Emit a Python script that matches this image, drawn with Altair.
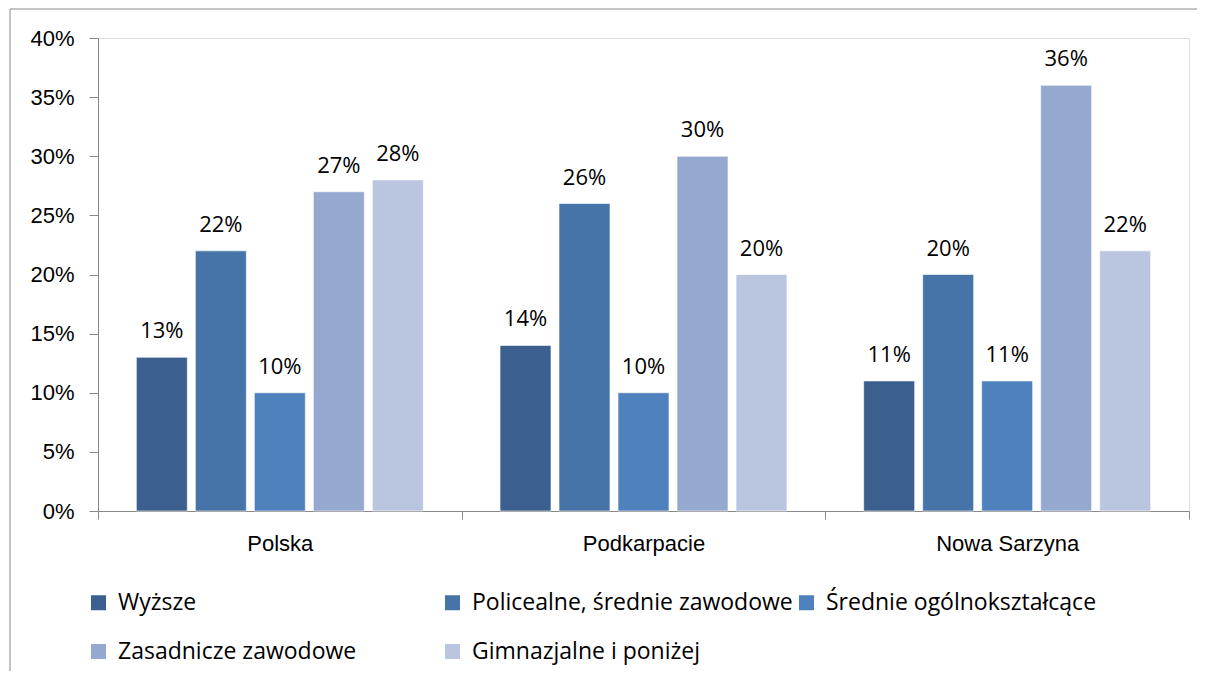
import altair as alt
import pandas as pd

groups = ["Polska", "Podkarpacie", "Nowa Sarzyna"]
series = ["Wyższe", "Policealne, średnie zawodowe", "Średnie ogólnokształcące",
          "Zasadnicze zawodowe", "Gimnazjalne i poniżej"]
colors = ["#3B5F8E", "#4674A8", "#4F81BD", "#95A9D0", "#BAC6DF"]
polska = [13, 22, 10, 27, 28]
podkarpacie = [14, 26, 10, 30, 20]
nowa_sarzyna = [11, 20, 11, 36, 22]

rows = []
for g, vals in zip(groups, [polska, podkarpacie, nowa_sarzyna]):
    for s, v in zip(series, vals):
        rows.append({"grupa": g, "poziom": s, "wartosc": v / 100})
df = pd.DataFrame(rows)

W, H = 1091, 473
FONT = "Open Sans"
AX = "#868686"

base = alt.Chart(df).encode(
    x=alt.X("grupa:N", sort=groups, title=None,
            scale=alt.Scale(paddingInner=0, paddingOuter=0),
            axis=alt.Axis(labelAngle=0, tickBand="extent", tickSize=8,
                          labelPadding=14, labelFontSize=22)),
    xOffset=alt.XOffset("poziom:N", sort=series,
                        scale=alt.Scale(paddingInner=0.136, paddingOuter=0.65)),
)

bars = base.mark_bar(stroke="white", strokeWidth=1, strokeOpacity=0.6).encode(
    y=alt.Y("wartosc:Q", title=None,
            scale=alt.Scale(domain=[0, 0.4], nice=False),
            axis=alt.Axis(format=".0%", values=[0, 0.05, 0.1, 0.15, 0.2, 0.25, 0.3, 0.35, 0.4],
                          tickSize=9, labelPadding=15, labelFontSize=22, grid=False)),
    color=alt.Color("poziom:N", sort=series,
                    scale=alt.Scale(domain=series, range=colors),
                    legend=alt.Legend(title=None, orient="none", legendX=-11, legendY=553,
                                      direction="horizontal",
                                      columns=3, gridAlign="all", symbolType="square",
                                      symbolSize=225, symbolStrokeWidth=0,
                                      labelFont=FONT, labelFontSize=23, labelColor="black",
                                      labelOffset=8, columnPadding=2, rowPadding=25,
                                      padding=0, labelLimit=400)),
)

labels = base.mark_text(font=FONT, fontSize=22, color="black",
                        baseline="alphabetic", dy=-19).encode(
    y=alt.Y("wartosc:Q"),
    text=alt.Text("wartosc:Q", format=".0%"),
)

frame = alt.Chart(alt.Data(values=[{}]))
top_border = frame.mark_rule(color="#8a8a8a", strokeWidth=1).encode(
    x=alt.value(-88), x2=alt.value(W + 8), y=alt.value(-29))
left_border = frame.mark_rule(color="#8a8a8a", strokeWidth=1).encode(
    x=alt.value(-88), y=alt.value(-29), y2=alt.value(H + 160))

chart = alt.layer(bars, labels, top_border, left_border).properties(
    width=W, height=H,
    autosize=alt.AutoSizeParams(type="none"),
    padding={"left": 90, "top": 30, "right": 8, "bottom": 160},
).configure_view(stroke=None).configure_axis(
    domainColor=AX, domainWidth=1.5, tickColor=AX, tickWidth=1.5,
    labelFont=FONT, labelColor="black",
).configure(background="white")

chart.save("out.html", embed_options={"renderer": "svg", "actions": False})
